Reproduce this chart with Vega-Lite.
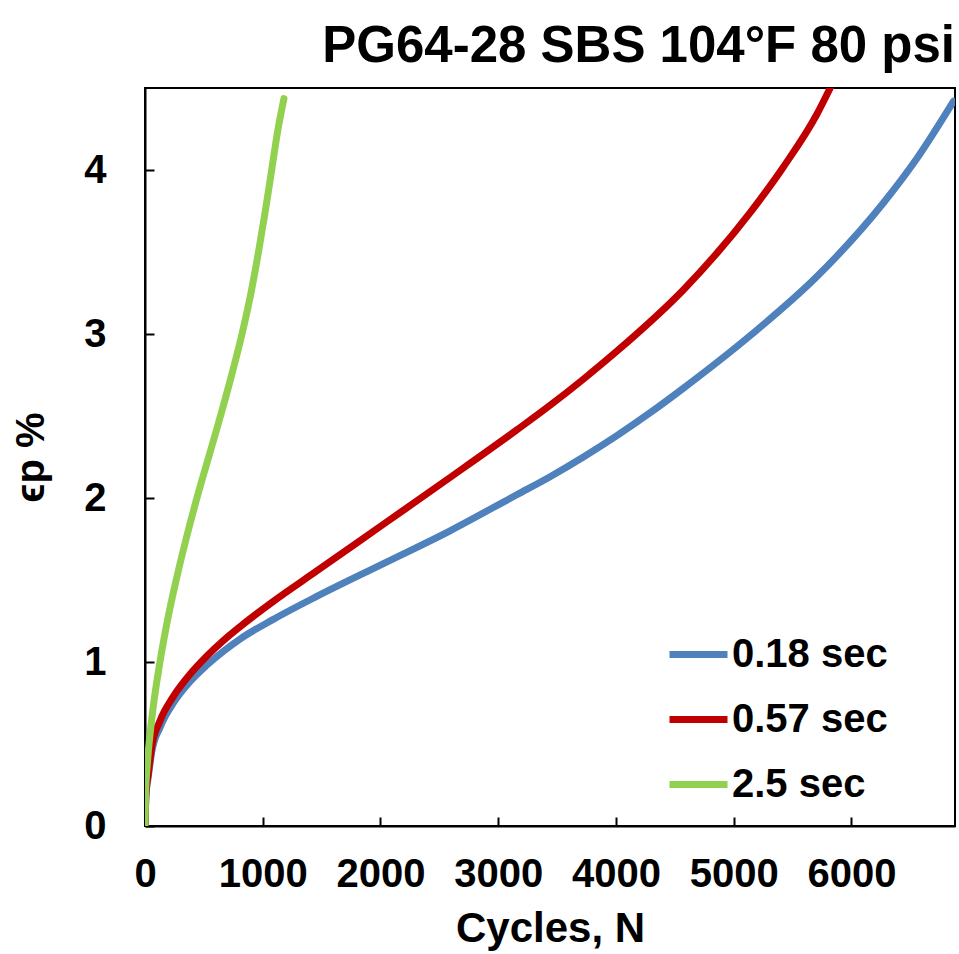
{
  "$schema": "https://vega.github.io/schema/vega-lite/v6.json",
  "width": 810,
  "height": 738,
  "autosize": {"type": "none"},
  "padding": {"left": 145, "top": 88, "right": 4, "bottom": 128},
  "background": "white",
  "title": {
    "text": "PG64-28 SBS 104°F 80 psi",
    "anchor": "end",
    "frame": "group",
    "font": "Liberation Sans",
    "fontSize": 51,
    "fontWeight": "bold",
    "color": "black",
    "baseline": "bottom",
    "offset": 10,
    "dy": 46
  },
  "config": {
    "view": {"stroke": "black", "strokeWidth": 2},
    "font": "Liberation Sans"
  },
  "data": {
    "values": [
      {"s": "0.18 sec", "n": 0, "e": 0},
      {"s": "0.18 sec", "n": 8, "e": 0.18},
      {"s": "0.18 sec", "n": 28, "e": 0.3},
      {"s": "0.18 sec", "n": 57, "e": 0.45},
      {"s": "0.18 sec", "n": 127, "e": 0.6},
      {"s": "0.18 sec", "n": 241, "e": 0.75},
      {"s": "0.18 sec", "n": 382, "e": 0.88},
      {"s": "0.18 sec", "n": 524, "e": 0.98},
      {"s": "0.18 sec", "n": 807, "e": 1.14},
      {"s": "0.18 sec", "n": 1090, "e": 1.26},
      {"s": "0.18 sec", "n": 1459, "e": 1.4},
      {"s": "0.18 sec", "n": 2025, "e": 1.6},
      {"s": "0.18 sec", "n": 2591, "e": 1.8},
      {"s": "0.18 sec", "n": 3158, "e": 2.02},
      {"s": "0.18 sec", "n": 3441, "e": 2.13},
      {"s": "0.18 sec", "n": 3724, "e": 2.25},
      {"s": "0.18 sec", "n": 4008, "e": 2.38},
      {"s": "0.18 sec", "n": 4291, "e": 2.52},
      {"s": "0.18 sec", "n": 4574, "e": 2.67},
      {"s": "0.18 sec", "n": 5140, "e": 2.99},
      {"s": "0.18 sec", "n": 5707, "e": 3.35},
      {"s": "0.18 sec", "n": 6273, "e": 3.8},
      {"s": "0.18 sec", "n": 6556, "e": 4.07},
      {"s": "0.18 sec", "n": 6868, "e": 4.42},
      {"s": "0.57 sec", "n": 0, "e": 0},
      {"s": "0.57 sec", "n": 8, "e": 0.2},
      {"s": "0.57 sec", "n": 28, "e": 0.32},
      {"s": "0.57 sec", "n": 57, "e": 0.48},
      {"s": "0.57 sec", "n": 127, "e": 0.64},
      {"s": "0.57 sec", "n": 241, "e": 0.79},
      {"s": "0.57 sec", "n": 382, "e": 0.925},
      {"s": "0.57 sec", "n": 524, "e": 1.035},
      {"s": "0.57 sec", "n": 665, "e": 1.13},
      {"s": "0.57 sec", "n": 807, "e": 1.215},
      {"s": "0.57 sec", "n": 1090, "e": 1.37},
      {"s": "0.57 sec", "n": 1459, "e": 1.555},
      {"s": "0.57 sec", "n": 2025, "e": 1.84},
      {"s": "0.57 sec", "n": 2591, "e": 2.125},
      {"s": "0.57 sec", "n": 3158, "e": 2.415},
      {"s": "0.57 sec", "n": 3441, "e": 2.565},
      {"s": "0.57 sec", "n": 3724, "e": 2.725},
      {"s": "0.57 sec", "n": 4008, "e": 2.895},
      {"s": "0.57 sec", "n": 4574, "e": 3.27},
      {"s": "0.57 sec", "n": 5140, "e": 3.74},
      {"s": "0.57 sec", "n": 5424, "e": 4.02},
      {"s": "0.57 sec", "n": 5707, "e": 4.34},
      {"s": "0.57 sec", "n": 5820, "e": 4.5},
      {"s": "2.5 sec", "n": 0, "e": 0},
      {"s": "2.5 sec", "n": 5, "e": 0.2},
      {"s": "2.5 sec", "n": 20, "e": 0.38},
      {"s": "2.5 sec", "n": 57, "e": 0.65},
      {"s": "2.5 sec", "n": 127, "e": 1.0},
      {"s": "2.5 sec", "n": 190, "e": 1.25},
      {"s": "2.5 sec", "n": 265, "e": 1.5},
      {"s": "2.5 sec", "n": 349, "e": 1.75},
      {"s": "2.5 sec", "n": 441, "e": 2.0},
      {"s": "2.5 sec", "n": 541, "e": 2.25},
      {"s": "2.5 sec", "n": 641, "e": 2.5},
      {"s": "2.5 sec", "n": 736, "e": 2.75},
      {"s": "2.5 sec", "n": 824, "e": 3.0},
      {"s": "2.5 sec", "n": 900, "e": 3.25},
      {"s": "2.5 sec", "n": 964, "e": 3.5},
      {"s": "2.5 sec", "n": 1022, "e": 3.75},
      {"s": "2.5 sec", "n": 1076, "e": 4.0},
      {"s": "2.5 sec", "n": 1130, "e": 4.25},
      {"s": "2.5 sec", "n": 1180, "e": 4.435}
    ]
  },
  "mark": {"type": "line", "strokeWidth": 7, "strokeCap": "round", "interpolate": "monotone", "clip": true},
  "encoding": {
    "x": {
      "field": "n",
      "type": "quantitative",
      "scale": {"domain": [0, 6880], "nice": false, "zero": true},
      "axis": {
        "title": "Cycles, N",
        "format": "d",
        "values": [0, 1000, 2000, 3000, 4000, 5000, 6000],
        "grid": false,
        "domainColor": "black",
        "domainWidth": 2,
        "tickColor": "black",
        "tickWidth": 2,
        "tickSize": -9,
        "labelPadding": 37,
        "labelFont": "Liberation Sans",
        "labelFontSize": 40,
        "labelFontWeight": "bold",
        "labelColor": "black",
        "labelFlush": false,
        "titleFont": "Liberation Sans",
        "titleFontSize": 42,
        "titleFontWeight": "bold",
        "titleColor": "black",
        "titlePadding": 14
      }
    },
    "y": {
      "field": "e",
      "type": "quantitative",
      "scale": {"domain": [0, 4.5], "nice": false},
      "axis": {
        "title": "ϵp %",
        "values": [0, 1, 2, 3, 4],
        "grid": false,
        "domainColor": "black",
        "domainWidth": 2,
        "tickColor": "black",
        "tickWidth": 2,
        "tickSize": -9,
        "labelPadding": 48,
        "labelFont": "Liberation Sans",
        "labelFontSize": 40,
        "labelFontWeight": "bold",
        "labelColor": "black",
        "labelFlush": false,
        "titleFont": "Liberation Sans",
        "titleFontSize": 40,
        "titleFontWeight": "bold",
        "titleColor": "black",
        "titlePadding": 32
      }
    },
    "color": {
      "field": "s",
      "type": "nominal",
      "scale": {"domain": ["0.18 sec", "0.57 sec", "2.5 sec"], "range": ["#4F81BD", "#C00000", "#92D050"]},
      "legend": {
        "title": null,
        "orient": "none",
        "legendX": 521,
        "legendY": 534,
        "padding": 0,
        "symbolType": "stroke",
        "symbolSize": 3364,
        "symbolStrokeWidth": 7,
        "rowPadding": 12,
        "labelOffset": 1,
        "labelFont": "Liberation Sans",
        "labelFontSize": 40,
        "labelFontWeight": "bold",
        "labelColor": "black",
        "labelLimit": 400
      }
    }
  }
}
